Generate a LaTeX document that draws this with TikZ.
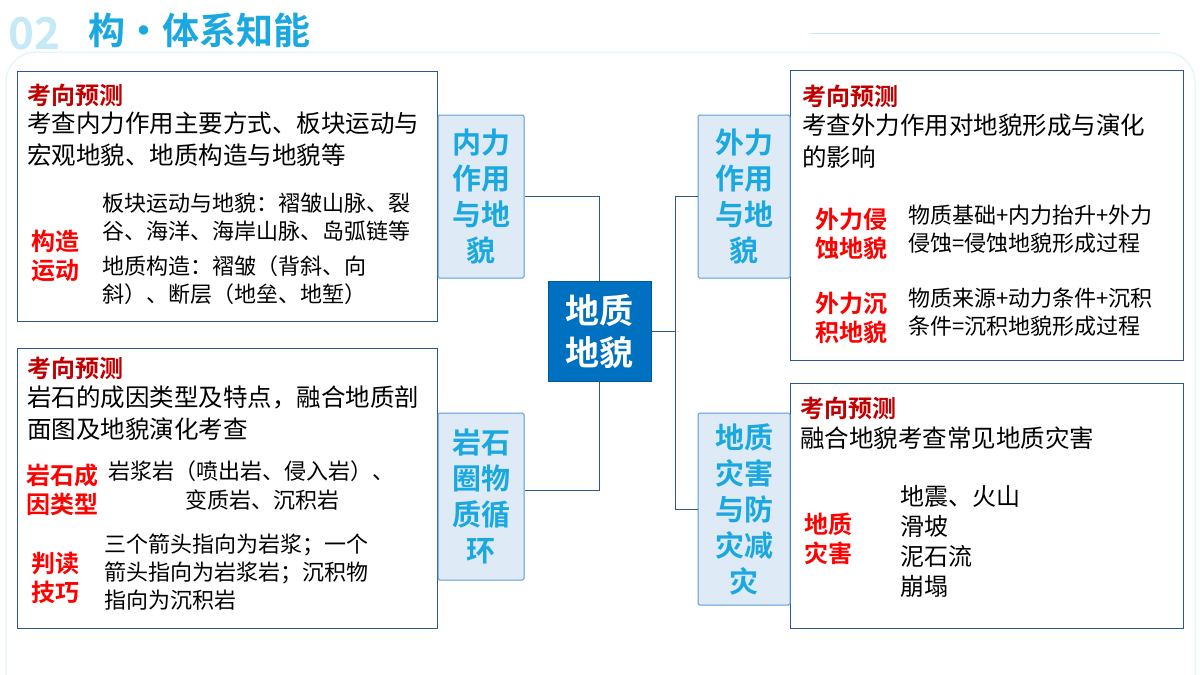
\documentclass[tikz,border=0pt]{standalone}
\usepackage{fontspec}
\setmainfont{Noto Sans CJK SC}[BoldFont={Noto Sans CJK SC Bold}]
\usepackage{xcolor}
\definecolor{darkred}{HTML}{C00000}
\definecolor{brightred}{HTML}{FF0000}
\definecolor{cyanblue}{HTML}{1BA8E0}
\definecolor{deepblue}{HTML}{0070C0}
\definecolor{boxline}{HTML}{2F5597}
\definecolor{labelfill}{HTML}{DEEBF7}
\definecolor{labelline}{HTML}{5B9BD5}

\begin{document}
\begin{tikzpicture}[x=1pt, y=-1pt,
    txtbox/.style={draw=boxline, line width=0.8pt, fill=white},
    lblbox/.style={draw=labelline, line width=1pt, fill=labelfill, rounded corners=1.5pt},
    lbltext/.style={text=cyanblue, font=\fontsize{29}{36}\selectfont\bfseries, align=center},
    head/.style={anchor=west, text=darkred, font=\fontsize{24}{24}\selectfont\bfseries, inner sep=0pt},
    body/.style={anchor=north west, font=\fontsize{24.5}{32}\selectfont, align=left, inner sep=0pt},
    small/.style={anchor=north west, font=\fontsize{22}{28}\selectfont, align=left, inner sep=0pt},
    tag/.style={text=brightred, font=\fontsize{24}{29}\selectfont\bfseries, align=center, inner sep=0pt},
    link/.style={draw=boxline, line width=0.8pt}]
    \useasboundingbox (0,0) rectangle (1200,675);
    \fill[white] (0,0) rectangle (1200,675);

    % Header
    \draw[cyanblue!15, line width=1pt, rounded corners=30pt] (6,675) -- (6,52) -- (1195,52) -- (1195,675);
    \draw[cyanblue!25, line width=1pt] (810,33) -- (1160,33);
    \node[anchor=west, text=cyanblue!25, font=\fontsize{44}{44}\selectfont\bfseries, inner sep=0pt] (num) at (8,34) {02};
    \node[anchor=west, text=cyanblue, font=\fontsize{37}{37}\selectfont\bfseries, inner sep=0pt] (title) at (88,30) {构·体系知能};

    % Text boxes
    \draw[txtbox] (17,71) rectangle (437,321);
    \draw[txtbox] (17,348) rectangle (437,628);
    \draw[txtbox] (790,70) rectangle (1183,360);
    \draw[txtbox] (790,383) rectangle (1183,628);

    % Connectors
    \coordinate (jr) at (675,331);
    \node[lblbox, minimum width=86pt, minimum height=163pt] (inner) at (481,196.5) {};
    \node[lblbox, minimum width=86pt, minimum height=167pt] (rock) at (481,496.5) {};
    \node[lblbox, minimum width=92pt, minimum height=163pt] (outer) at (744,196.5) {};
    \node[lblbox, minimum width=92pt, minimum height=192pt] (hazard) at (744,509) {};
    \node[fill=deepblue, draw=deepblue!80!black, minimum width=103pt, minimum height=100pt, text=white,
          font=\fontsize{34}{42}\selectfont\bfseries, align=center] (core) at (599.5,331) {地质\\地貌};
    \draw[link] (inner.east) -| (core.north);
    \draw[link] (rock.east |- 0,490) -| (core.south);
    \draw[link] (core.east) -- (jr);
    \draw[link] (outer.west) -| (jr);
    \draw[link] (hazard.west) -| (jr);

    % Label texts
    \node[lbltext] (innert) at (inner) {内力\\作用\\与地\\貌};
    \node[lbltext] (rockt) at (rock) {岩石\\圈物\\质循\\环};
    \node[lbltext] (outert) at (outer) {外力\\作用\\与地\\貌};
    \node[lbltext] (hazardt) at (hazard) {地质\\灾害\\与防\\灾减\\灾};

    % Left top
    \node[head] (h1) at (27,95) {考向预测};
    \node[body] (b1) at (27,112) {考查内力作用主要方式、板块运动与\\宏观地貌、地质构造与地貌等};
    \node[tag] (t1) at (55,256) {构造\\运动};
    \node[small] (s1) at (102,193) {板块运动与地貌：褶皱山脉、裂\\谷、海洋、海岸山脉、岛弧链等};
    \node[small] (s2) at (102,255) {地质构造：褶皱（背斜、向\\斜）、断层（地垒、地堑）};

    % Left bottom
    \node[head] (h2) at (27,368) {考向预测};
    \node[body] (b2) at (27,386) {岩石的成因类型及特点，融合地质剖\\面图及地貌演化考查};
    \node[tag] (t2) at (63,490) {岩石成\\因类型};
    \node[small] (s3) at (108,460) {岩浆岩（喷出岩、侵入岩）、};
    \node[small] (s4) at (185,490) {变质岩、沉积岩};
    \node[tag] (t3) at (55,578) {判读\\技巧};
    \node[small] (s5) at (104,534) {三个箭头指向为岩浆；一个\\箭头指向为岩浆岩；沉积物\\指向为沉积岩};

    % Right top
    \node[head] (h3) at (802,96) {考向预测};
    \node[body] (b3) at (802,114) {考查外力作用对地貌形成与演化\\的影响};
    \node[tag] (t4) at (851,234) {外力侵\\蚀地貌};
    \node[small] (s6) at (908,205) {物质基础+内力抬升+外力\\侵蚀=侵蚀地貌形成过程};
    \node[tag] (t5) at (851,318) {外力沉\\积地貌};
    \node[small] (s7) at (908,288) {物质来源+动力条件+沉积\\条件=沉积地貌形成过程};

    % Right bottom
    \node[head] (h4) at (800,408) {考向预测};
    \node[body] (b4) at (800,427) {融合地貌考查常见地质灾害};
    \node[tag] (t6) at (828,539) {地质\\灾害};
    \node[small, font=\fontsize{24}{30}\selectfont] (s8) at (900,485) {地震、火山\\滑坡\\泥石流\\崩塌};
\end{tikzpicture}
\end{document}
